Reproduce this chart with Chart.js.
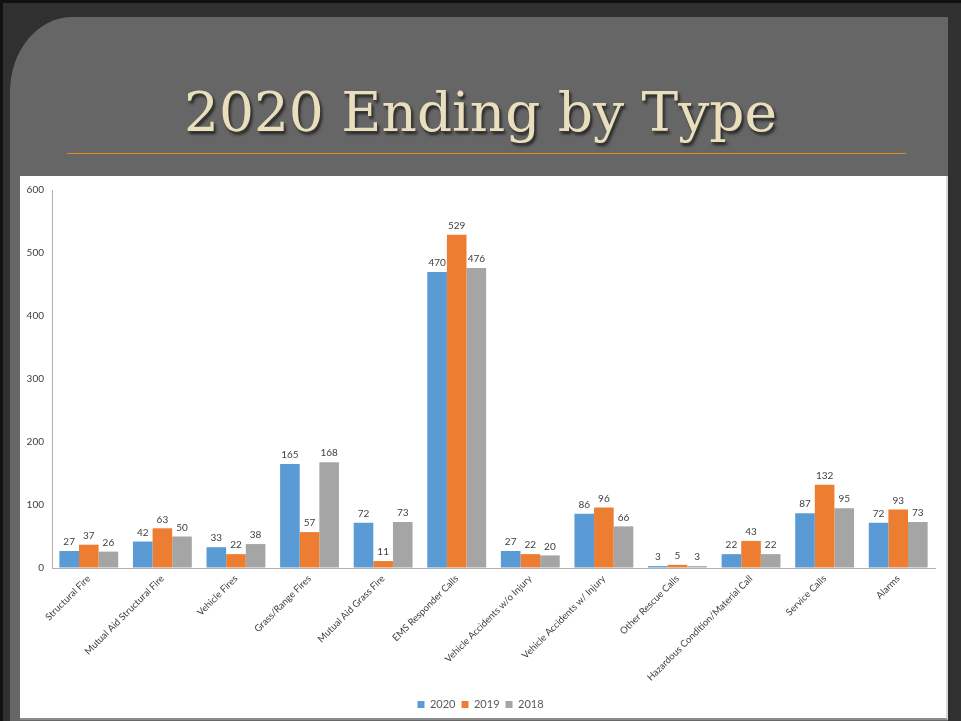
<!DOCTYPE html>
<html>
<head>
<meta charset="utf-8">
<script src="https://cdn.jsdelivr.net/npm/chart.js@4.4.0/dist/chart.umd.min.js"></script>
<style>
  html, body { margin: 0; padding: 0; }
  body {
    width: 961px; height: 721px; overflow: hidden;
    background: #303030; position: relative;
    box-shadow: inset 3px 3px 0 #111;
  }
  .panel {
    position: absolute; left: 10px; top: 17px; width: 938px; height: 704px;
    background: #666666; border-top-left-radius: 62px 75px;
  }
  .title {
    position: absolute; left: 0; top: 80px; width: 961px; text-align: center;
    font-family: "DejaVu Serif", serif; font-size: 55px; color: #e9dfbd;
    text-shadow: 1px 1px 0 #3a3a3a, 2px 3px 3px #222;
  }
  .rule {
    position: absolute; left: 67px; top: 153px; width: 839px; height: 1px;
    background: #e8871f;
  }
  .plot {
    position: absolute; left: 20px; top: 176px; width: 926px; height: 542px;
    background: #ffffff; border-bottom: 2px solid #8c8c8c; border-right: 2px solid #d8d8d8;
  }
</style>
</head>
<body>
<div class="panel"></div>
<div class="title">2020 Ending by Type</div>
<div class="rule"></div>
<div class="plot"><canvas id="chart" width="926" height="542"></canvas></div>
<script>
const categories = [
  "Structural Fire", "Mutual Aid Structural Fire", "Vehicle Fires", "Grass/Range Fires",
  "Mutual Aid Grass Fire", "EMS Responder Calls", "Vehicle Accidents w/o Injury",
  "Vehicle Accidents w/ Injury", "Other Rescue Calls", "Hazardous Condition/Material Call",
  "Service Calls", "Alarms"
];
const values2020 = [27, 42, 33, 165, 72, 470, 27, 86, 3, 22, 87, 72];
const values2019 = [37, 63, 22, 57, 11, 529, 22, 96, 5, 43, 132, 93];
const values2018 = [26, 50, 38, 168, 73, 476, 20, 66, 3, 22, 95, 73];
const yTicks = [0, 100, 200, 300, 400, 500, 600];

const labelFont = "Lato, 'Open Sans', sans-serif";

// values above each bar
const barValues = {
  id: "barValues",
  afterDatasetsDraw(chart) {
    const ctx = chart.ctx;
    ctx.save();
    ctx.font = "10px " + labelFont;
    ctx.fillStyle = "#404040";
    ctx.textAlign = "center";
    ctx.textBaseline = "bottom";
    chart.data.datasets.forEach((ds, i) => {
      chart.getDatasetMeta(i).data.forEach((bar, j) => {
        ctx.fillText(ds.data[j], bar.x, bar.y - 4);
      });
    });
    ctx.restore();
  }
};

new Chart(document.getElementById("chart"), {
  type: "bar",
  data: {
    labels: categories,
    datasets: [
      { label: "2020", data: values2020, backgroundColor: "#5b9bd5" },
      { label: "2019", data: values2019, backgroundColor: "#ed7d31" },
      { label: "2018", data: values2018, backgroundColor: "#a5a5a5" }
    ]
  },
  options: {
    responsive: false,
    animation: false,
    datasets: { bar: { categoryPercentage: 0.8, barPercentage: 1.0 } },
    layout: { padding: { top: 11, left: 6, right: 11, bottom: -2 } },
    plugins: {
      tooltip: { enabled: false },
      legend: {
        position: "bottom",
        labels: {
          boxWidth: 7, boxHeight: 7, padding: 6,
          color: "#595959",
          font: { family: labelFont, size: 11 }
        }
      }
    },
    scales: {
      x: {
        grid: { display: true, drawOnChartArea: false, drawTicks: false },
        border: { color: "#b0b0b0" },
        ticks: {
          color: "#404040", padding: 5,
          minRotation: 45, maxRotation: 45, autoSkip: false,
          font: { family: labelFont, size: 9.5 }
        },
        afterFit(scale) { scale.height = 125; }
      },
      y: {
        min: 0, max: 600,
        afterBuildTicks(scale) { scale.ticks = yTicks.map(v => ({ value: v })); },
        grid: { display: true, drawOnChartArea: false, drawTicks: false },
        border: { color: "#b0b0b0" },
        ticks: {
          color: "#404040", padding: 8,
          font: { family: labelFont, size: 10 }
        },
        afterFit(scale) { scale.width = 26; }
      }
    }
  },
  plugins: [barValues]
});
</script>
</body>
</html>
